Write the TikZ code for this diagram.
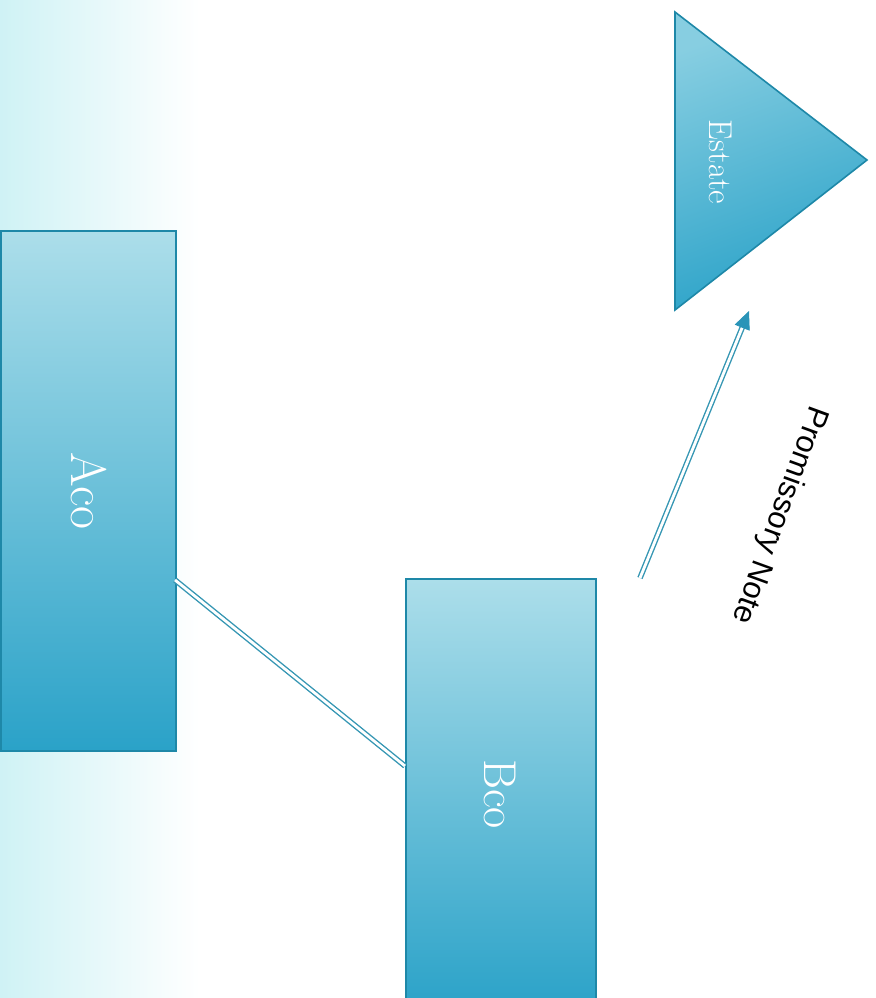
\documentclass[tikz,border=0pt]{standalone}
\usepackage{fontspec}
\newfontfamily\labelsans{Liberation Sans}
\usetikzlibrary{arrows.meta,calc}
\definecolor{bgcyan}{HTML}{CFF2F5}
\definecolor{boxtop}{HTML}{ACDEEA}
\definecolor{boxmid}{HTML}{4FB6D4}
\definecolor{boxbot}{HTML}{2AA2C8}
\definecolor{boxedge}{HTML}{1E88A8}
\definecolor{linecol}{HTML}{3596B3}
\definecolor{tipcol}{HTML}{2A94B8}
\tikzset{
  entity/.style={draw=boxedge, line width=1pt, rectangle, inner sep=0pt,
    top color=boxtop, middle color=boxmid, bottom color=boxbot},
  boxtext/.style={rotate=-90, text=white},
  link/.style={draw=linecol, double=white, double distance=1.4pt, line width=0.7pt},
  notelabel/.style={font=\labelsans\fontsize{15.5}{15.5}\selectfont, text=black}
}
\begin{document}
\begin{tikzpicture}[x=0.5pt, y=-0.5pt]
\useasboundingbox (0,0) rectangle (876,998);
% background fade
\shade[left color=bgcyan, right color=white, draw=none] (0,0) rectangle (200,998);
% boxes
\node[entity, minimum width=87.5pt, minimum height=260pt, anchor=north west] (aco) at (0,230) {};
\node[boxtext, font=\fontsize{25}{25}\selectfont] (acotext) at (aco.center) {Aco};
\node[entity, minimum width=95pt, minimum height=216pt, anchor=north west] (bco) at (405,578) {};
\node[boxtext, font=\fontsize{23}{23}\selectfont] (bcotext) at (500,794) {Bco};
% triangle
\coordinate (e1) at (675,12);
\coordinate (e2) at (867,160);
\coordinate (e3) at (675,310);
\shade[draw=boxedge, line width=0.8pt, top color=boxtop!60!boxmid, bottom color=boxbot, shading angle=20]
  (e1) -- (e2) -- (e3) -- cycle;
\node[boxtext, font=\fontsize{16.5}{16.5}\selectfont] (estate) at (721,162) {Estate};
% connectors
\coordinate (acoend) at (175,580);
\coordinate (bcoend) at (405,766);
\draw[link] (acoend) -- (bcoend);
\coordinate (pstart) at (640,578);
\coordinate (ptip) at (749,311);
\draw[link, shorten >=7pt] (pstart) -- (ptip);
\draw[draw=tipcol, fill=tipcol, line width=0.3pt, -{Triangle[length=9pt,width=8pt]}] ($(ptip)!8pt!(pstart)$) -- (ptip);
\node[notelabel, rotate=-110] (note) at (779,515) {Promissory Note};
\end{tikzpicture}
\end{document}
